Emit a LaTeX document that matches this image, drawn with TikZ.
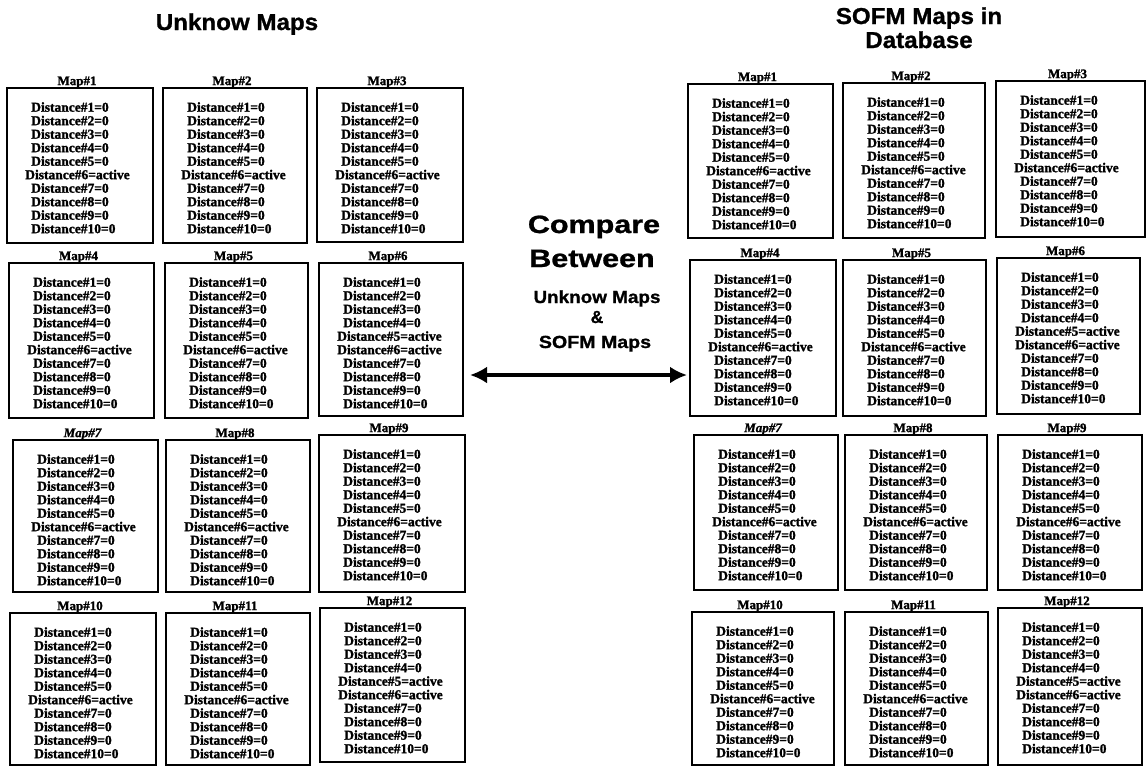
\documentclass[tikz,border=0pt]{standalone}
\usepackage{fontspec}
\setmainfont{Liberation Serif}[BoldFont={Liberation Serif Bold},
  BoldItalicFont={Liberation Serif Bold Italic},
  BoldFeatures={FakeBold=1.5}, BoldItalicFeatures={FakeBold=1.5}]
\newfontfamily\headfont{Liberation Sans}[BoldFeatures={FakeBold=1}]
\usetikzlibrary{arrows.meta,fit}

\tikzset{
  mapframe/.style={draw, line width=1.8pt, inner sep=0pt},
  maptext/.style={anchor=north west, inner sep=0pt, align=left,
    font=\fontsize{13.5}{13.5}\selectfont\bfseries},
  maptitle/.style={anchor=base, inner sep=0pt,
    font=\fontsize{13}{13}\selectfont\bfseries},
  bighead/.style={anchor=base, inner sep=0pt,
    font=\headfont\bfseries\fontsize{23}{23}\selectfont},
  cmphead/.style={anchor=base, inner sep=0pt,
    font=\headfont\bfseries\fontsize{25}{25}\selectfont},
  cmpsub/.style={anchor=base, inner sep=0pt,
    font=\headfont\bfseries\fontsize{17.5}{17.5}\selectfont},
  cmparrow/.style={line width=4pt,
    {Latex[length=17pt,width=17pt]}-{Latex[length=17pt,width=17pt]}}
}

% distance lists: one active neuron, or two active neurons
\newcommand\actline[1]{\hspace*{-6pt}Distance\##1=active}
\newcommand\oneact{Distance\#1=0\\Distance\#2=0\\Distance\#3=0\\Distance\#4=0\\Distance\#5=0\\\actline{6}\\Distance\#7=0\\Distance\#8=0\\Distance\#9=0\\Distance\#10=0}
\newcommand\twoact{Distance\#1=0\\Distance\#2=0\\Distance\#3=0\\Distance\#4=0\\\actline{5}\\\actline{6}\\Distance\#7=0\\Distance\#8=0\\Distance\#9=0\\Distance\#10=0}

% one map: name, left, top, right, bottom, title, lines
\newcommand\mapcell[7]{%
  \coordinate (#1-nw) at (#2,#3);
  \coordinate (#1-se) at (#4,#5);
  \node[mapframe, fit=(#1-nw)(#1-se)] (#1) {};
  \node[maptitle] (#1-title) at ([yshift=2pt,xshift=-3pt]#1.north) {#6};
  \node[maptext] (#1-text) at ([xshift=25pt,yshift=-15pt]#1.north west) {#7};
}

\begin{document}
\begin{tikzpicture}[x=1pt,y=-1pt]
  \fill[white] (0,0) rectangle (1148,766);
  \useasboundingbox (0,0) rectangle (1148,766);

  % headings
  \node[bighead] (hleft) at (237,30) {\scalebox{1.05}[1]{Unknow Maps}};
  \node[bighead] (hright1) at (919,24) {\scalebox{1.05}[1]{SOFM Maps in}};
  \node[bighead] (hright2) at (919,48) {\scalebox{1.05}[1]{Database}};

  % unknown maps
  \mapcell{L1}{7}{88}{153}{243}{Map\#1}{\oneact}
  \mapcell{L2}{163}{88}{307}{243}{Map\#2}{\oneact}
  \mapcell{L3}{317}{88}{463}{242}{Map\#3}{\oneact}
  \mapcell{L4}{9}{263}{154}{418}{Map\#4}{\oneact}
  \mapcell{L5}{165}{263}{308}{418}{Map\#5}{\oneact}
  \mapcell{L6}{319}{263}{463}{416}{Map\#6}{\twoact}
  \mapcell{L7}{13}{440}{158}{592}{\itshape Map\#7}{\oneact}
  \mapcell{L8}{166}{440}{310}{592}{Map\#8}{\oneact}
  \mapcell{L9}{319}{435}{465}{592}{Map\#9}{\oneact}
  \mapcell{L10}{10}{613}{156}{765}{Map\#10}{\oneact}
  \mapcell{L11}{166}{613}{310}{765}{Map\#11}{\oneact}
  \mapcell{L12}{320}{608}{465}{762}{Map\#12}{\twoact}

  % SOFM maps in the database
  \mapcell{R1}{688}{84}{833}{238}{Map\#1}{\oneact}
  \mapcell{R2}{843}{83}{985}{238}{Map\#2}{\oneact}
  \mapcell{R3}{996}{81}{1145}{237}{Map\#3}{\oneact}
  \mapcell{R4}{690}{260}{836}{416}{Map\#4}{\oneact}
  \mapcell{R5}{843}{260}{986}{416}{Map\#5}{\oneact}
  \mapcell{R6}{997}{258}{1140}{414}{Map\#6}{\twoact}
  \mapcell{R7}{694}{435}{838}{590}{\itshape Map\#7}{\oneact}
  \mapcell{R8}{845}{435}{987}{590}{Map\#8}{\oneact}
  \mapcell{R9}{998}{435}{1142}{590}{Map\#9}{\oneact}
  \mapcell{R10}{692}{612}{834}{765}{Map\#10}{\oneact}
  \mapcell{R11}{845}{612}{988}{765}{Map\#11}{\oneact}
  \mapcell{R12}{998}{608}{1142}{765}{Map\#12}{\twoact}

  % comparison label and arrow
  \node[cmphead] (cmp1) at (594,233) {\scalebox{1.22}[1]{Compare}};
  \node[cmphead] (cmp2) at (592,267) {\scalebox{1.22}[1]{Between}};
  \node[cmpsub] (cmp3) at (597,303) {\scalebox{1.08}[1]{Unknow Maps}};
  \node[cmpsub] (cmp4) at (597,323) {\&};
  \node[cmpsub] (cmp5) at (595,348) {\scalebox{1.12}[1]{SOFM Maps}};
  \coordinate (cmpL) at (470,375);
  \coordinate (cmpR) at (687,375);
  \draw[cmparrow] (cmpL) -- (cmpR);
\end{tikzpicture}
\end{document}
